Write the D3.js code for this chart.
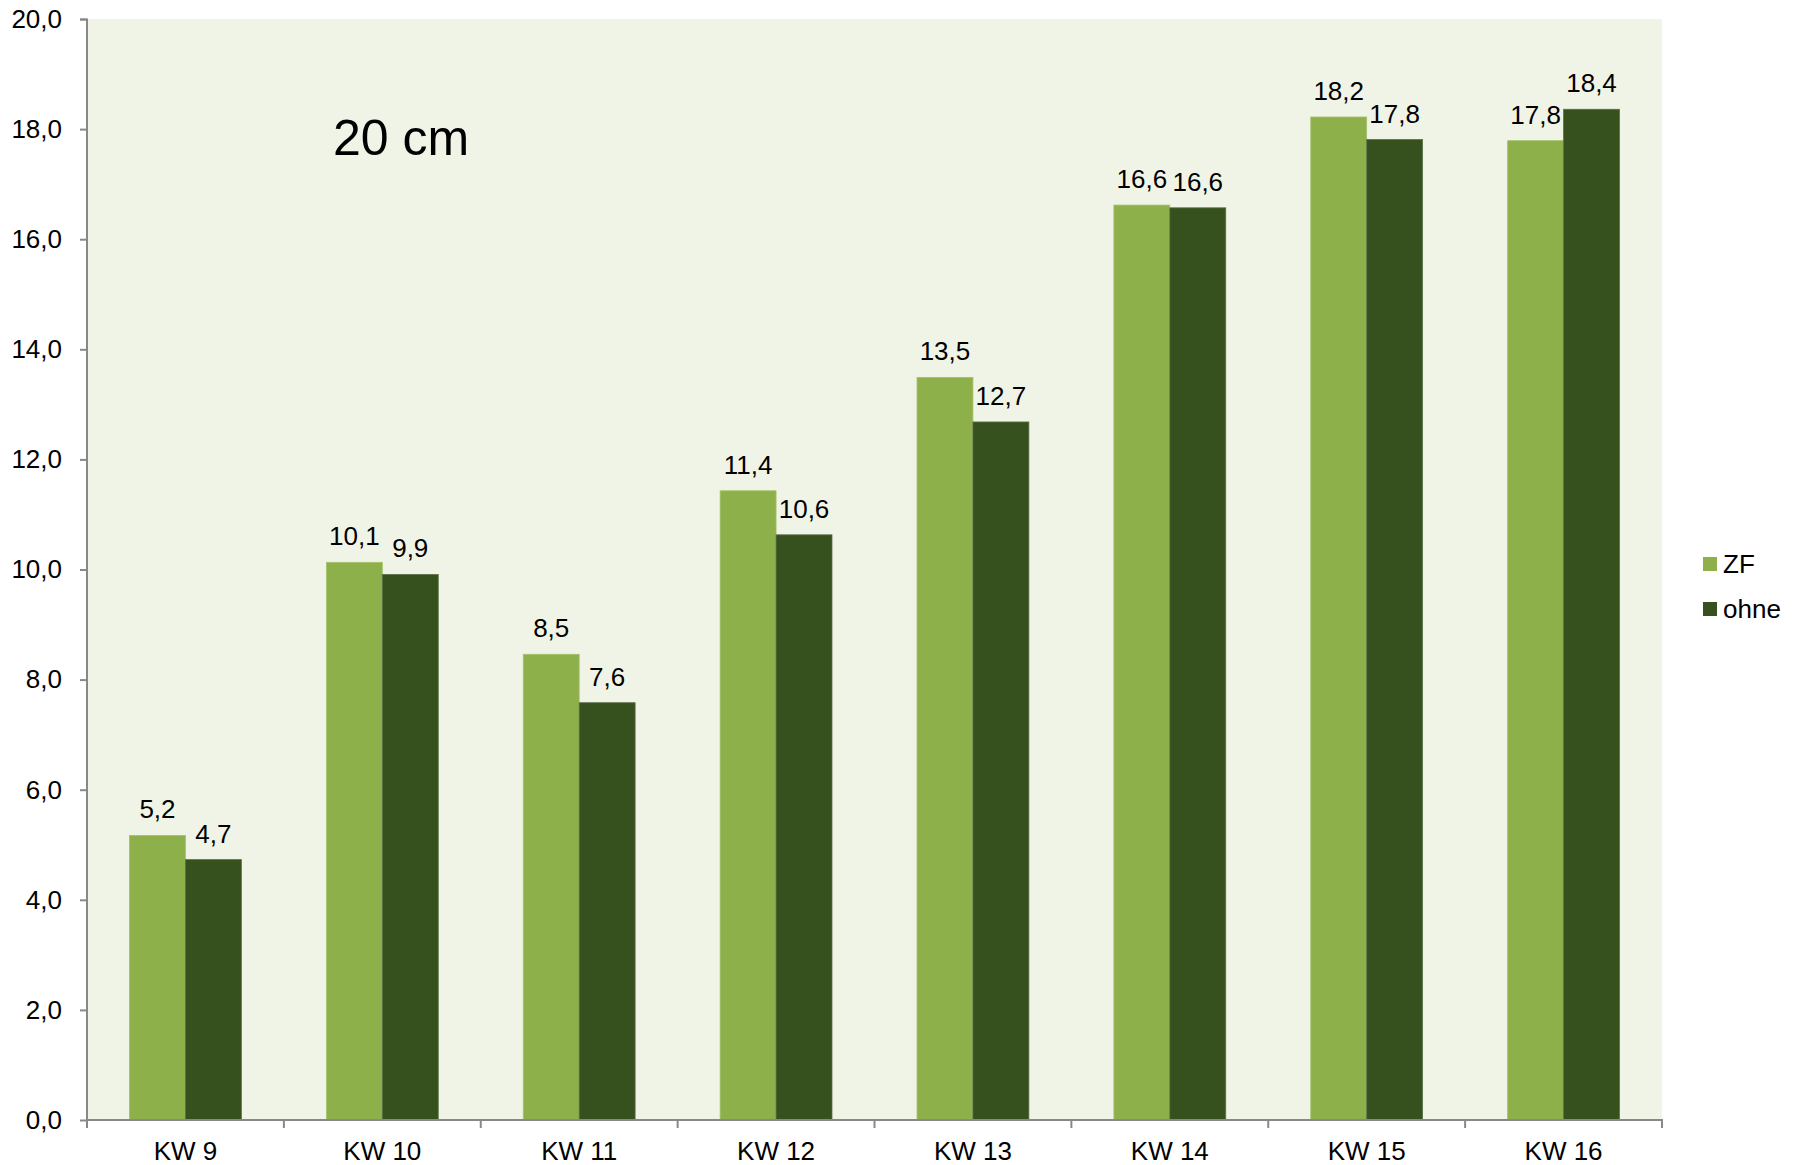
<!DOCTYPE html>
<html>
<head>
<meta charset="utf-8">
<script src="https://cdn.jsdelivr.net/npm/d3@7"></script>
<style>
	body { margin: 0; background: #fff; }
	svg { display: block; font-family: 'Liberation Sans', Arial, sans-serif; }
</style>
</head>
<body>
<svg width="1801" height="1165"></svg>
<script>
const categories = ['KW 9', 'KW 10', 'KW 11', 'KW 12', 'KW 13', 'KW 14', 'KW 15', 'KW 16'];
const seriesNames = ['ZF', 'ohne'];
const zfValues = [5.17, 10.13, 8.46, 11.43, 13.49, 16.62, 18.22, 17.79];
const ohneValues = [4.73, 9.91, 7.58, 10.63, 12.68, 16.57, 17.81, 18.36];
const yTicks = [0, 2, 4, 6, 8, 10, 12, 14, 16, 18, 20];
const title = '20 cm';

const colours = d3.scaleOrdinal()
	.domain(seriesNames)
	.range(['#8db04a', '#36511d']);

const svg = d3.select('svg');
const margin = { top: 19, left: 87, right: 139, bottom: 45 };
const width = +svg.attr('width');
const height = +svg.attr('height');
const plotW = width - margin.left - margin.right;
const plotH = height - margin.top - margin.bottom;

const data = categories.map((c, i) => ({ cat: c, ZF: zfValues[i], ohne: ohneValues[i] }));

const x = d3.scaleBand()
	.domain(categories)
	.range([0, plotW])
	.paddingInner(0)
	.paddingOuter(0);

const x1 = d3.scaleBand()
	.domain(seriesNames)
	.range([0, x.bandwidth()])
	.paddingInner(0)
	.paddingOuter(0.76);

const y = d3.scaleLinear()
	.domain([0, 20])
	.range([plotH, 0]);

const g = svg.append('g')
	.attr('transform', `translate(${margin.left},${margin.top})`);

g.append('rect')
	.attr('width', plotW)
	.attr('height', plotH)
	.attr('fill', '#f0f4e6');

g.append('text')
	.text(title)
	.attr('x', 246)
	.attr('y', 136)
	.attr('font-size', 50)
	.attr('fill', '#000');

const groups = g.append('g')
	.selectAll('g')
	.data(data)
	.enter()
	.append('g')
	.attr('transform', d => `translate(${x(d.cat)},0)`);

groups.selectAll('rect')
	.data(d => seriesNames.map(k => ({ key: k, value: d[k] })))
	.enter()
	.append('rect')
	.attr('x', d => x1(d.key))
	.attr('y', d => y(d.value))
	.attr('width', x1.bandwidth())
	.attr('height', d => plotH - y(d.value))
	.attr('fill', d => colours(d.key))
	.attr('stroke', d => d.key == 'ZF' ? '#a4c26c' : '#5a6e48')
	.attr('stroke-width', 0.8);

groups.selectAll('text')
	.data(d => seriesNames.map(k => ({ key: k, value: d[k] })))
	.enter()
	.append('text')
	.text(d => d3.format('.1f')(d.value).replace('.', ','))
	.attr('x', d => x1(d.key) + x1.bandwidth() / 2)
	.attr('y', d => y(d.value) - 17)
	.attr('text-anchor', 'middle')
	.attr('font-size', 26)
	.attr('fill', '#000');

// axes
const yAxis = g.append('g')
	.call(d3.axisLeft(y)
		.tickValues(yTicks)
		.tickSize(7)
		.tickPadding(18)
		.tickFormat(d => d3.format('.1f')(d).replace('.', ',')));

const xAxis = g.append('g')
	.attr('transform', `translate(0,${plotH})`)
	.call(d3.axisBottom(x).tickSize(0).tickPadding(22));

// category boundary ticks like the original
xAxis.selectAll('.sep')
	.data(d3.range(categories.length + 1))
	.enter()
	.append('line')
	.attr('class', 'sep')
	.attr('x1', i => i * x.step())
	.attr('x2', i => i * x.step())
	.attr('y1', 0)
	.attr('y2', 8)
	.attr('stroke', '#888');

[yAxis, xAxis].forEach(a => {
	a.select('.domain').attr('stroke', '#888').attr('stroke-width', 2);
	a.selectAll('.tick line').attr('stroke', '#888').attr('stroke-width', 2);
	a.selectAll('.tick text')
		.attr('font-size', 26)
		.attr('fill', '#000')
		.attr('font-family', "'Liberation Sans', Arial, sans-serif");
});
xAxis.selectAll('.sep').attr('stroke-width', 2);
yAxis.select('.domain').attr('d', `M-7,0.5H0V${plotH}`);
xAxis.select('.domain').attr('d', `M0,0H${plotW}V8`);

// legend
const legend = svg.append('g')
	.attr('transform', 'translate(1703,557)')
	.selectAll('g')
	.data(seriesNames)
	.enter()
	.append('g')
	.attr('transform', (d, i) => `translate(0,${i * 45})`);

legend.append('rect')
	.attr('width', 14)
	.attr('height', 14)
	.attr('fill', d => colours(d));

legend.append('text')
	.text(d => d)
	.attr('x', 20)
	.attr('y', 16)
	.attr('font-size', 26)
	.attr('fill', '#000');
</script>
</body>
</html>
